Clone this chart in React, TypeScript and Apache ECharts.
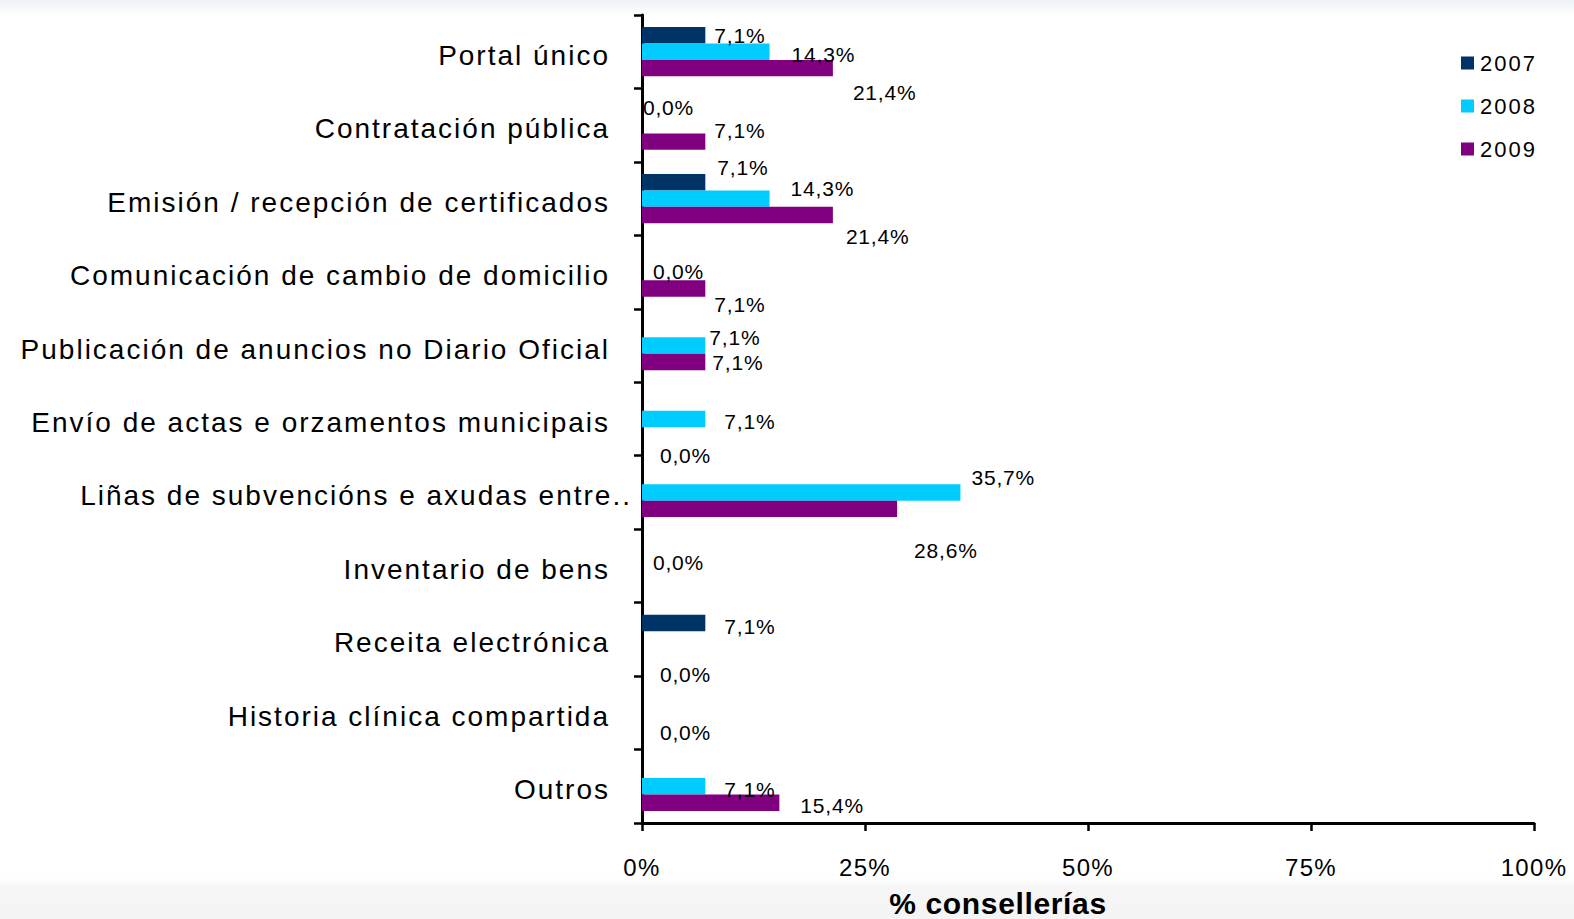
import React, { useEffect, useRef } from "react";
import * as echarts from "echarts";

const categories = [
  "Portal único",
  "Contratación pública",
  "Emisión / recepción de certificados",
  "Comunicación de cambio de domicilio",
  "Publicación de anuncios no Diario Oficial",
  "Envío de actas e orzamentos municipais",
  "Liñas de subvencións e axudas entre..",
  "Inventario de bens",
  "Receita electrónica",
  "Historia clínica compartida",
  "Outros",
];

const seriesNames = ["2007", "2008", "2009"];

const values2007: (number | null)[] = [7.1, 0, 7.1, null, null, null, null, null, 7.1, null, null];
const values2008: (number | null)[] = [14.3, null, 14.3, 0, 7.1, 7.1, 35.7, 0, null, null, 7.1];
const values2009: (number | null)[] = [21.4, 7.1, 21.4, 7.1, 7.1, 0, 28.6, null, 0, 0, 15.4];

const xTicks = [0, 25, 50, 75, 100];

// label placement offsets (layout only, reproducing the manual label positions)
const offsets2007: ([number, number] | null)[] = [[9, 0], [1, -1], [12, -15], null, null, null, null, null, [19, 4], null, null];
const offsets2008: ([number, number] | null)[] = [[22, 3], null, [21, -10], [11, -1], [4, -8], [19, 2], [11, -15], [11, -3], null, null, [19, 3]];
const offsets2009: ([number, number] | null)[] = [[20, 24], [9, -11], [13, 21], [9, 16], [7, 1], [18, 20], [17, 42], null, [18, 19], [18, 3], [21, 3]];

const colors = ["#003366", "#00CCFF", "#800080"];
const FONT = "'Liberation Sans', Arial, sans-serif";

// letter spacing per font size (reference text is rendered wide)
const spacingBySize: Record<string, string> = {
  "28": "2px",
  "21": "0.8px",
  "24": "1.3px",
  "22": "2px",
  "30": "0.65px",
};

function buildData(vals: (number | null)[], offs: ([number, number] | null)[]) {
  return vals.map((v, i) => {
    if (v === null) return { value: null, label: { show: false } };
    return { value: v, label: { show: true, offset: offs[i] || [5, 0] } };
  });
}

export default function App() {
  const ref = useRef<HTMLDivElement>(null);
  useEffect(() => {
    if (!ref.current) return;
    const el = ref.current;
    const chart = echarts.init(el, undefined, { renderer: "svg" });
    const allVals = [values2007, values2008, values2009];
    const allOffs = [offsets2007, offsets2008, offsets2009];
    chart.setOption({
      animation: false,
      backgroundColor: "#ffffff",
      graphic: [
        {
          type: "rect",
          left: 0,
          top: 0,
          shape: { width: 1574, height: 16 },
          style: {
            fill: new echarts.graphic.LinearGradient(0, 0, 0, 1, [
              { offset: 0, color: "#eef2f6" },
              { offset: 1, color: "#ffffff" },
            ]),
          },
          z: -10,
          silent: true,
        },
        {
          type: "rect",
          left: 0,
          top: 878,
          shape: { width: 1574, height: 41 },
          style: {
            fill: new echarts.graphic.LinearGradient(0, 0, 0, 1, [
              { offset: 0, color: "#ffffff" },
              { offset: 0.2, color: "#f6f6f6" },
              { offset: 1, color: "#f4f4f4" },
            ]),
          },
          z: -10,
          silent: true,
        },
      ],
      grid: {
        left: 642,
        right: 40,
        top: 15,
        bottom: 96,
        containLabel: false,
        outerBoundsMode: "none",
      },
      legend: {
        orient: "vertical",
        left: 1456,
        top: 47,
        itemWidth: 13,
        itemHeight: 13,
        itemGap: 21,
        icon: "rect",
        data: seriesNames,
        textStyle: { fontFamily: FONT, fontSize: 22, color: "#000", padding: [0, 0, 0, 1] },
      },
      xAxis: {
        type: "value",
        min: xTicks[0],
        max: xTicks[xTicks.length - 1],
        interval: 25,
        name: "% consellerías",
        nameLocation: "middle",
        nameGap: 65,
        nameTextStyle: {
          fontFamily: FONT,
          fontSize: 30,
          fontWeight: "bold",
          color: "#000",
          padding: [0, 180, 0, 0],
        },
        axisLine: { show: true, lineStyle: { color: "#000", width: 3 } },
        axisTick: { show: true, length: 8, lineStyle: { color: "#000", width: 2.5 } },
        axisLabel: {
          fontFamily: FONT,
          fontSize: 24,
          color: "#000",
          margin: 32,
          formatter: (v: number) => `${v}%`,
        },
        splitLine: { show: false },
      },
      yAxis: {
        type: "category",
        inverse: true,
        data: categories.map((c, i) =>
          i === 6
            ? {
                value: c,
                textStyle: {
                  fontFamily: FONT,
                  fontSize: 28,
                  color: "#000",
                  verticalAlign: "top",
                  lineHeight: 7,
                  padding: [0, -22, 0, 0],
                },
              }
            : c
        ),
        axisLine: { show: true, lineStyle: { color: "#000", width: 3 } },
        axisTick: { show: true, length: 8, lineStyle: { color: "#000", width: 2.5 } },
        axisLabel: {
          fontFamily: FONT,
          fontSize: 28,
          color: "#000",
          margin: 32,
          verticalAlign: "top",
          lineHeight: 7,
        },
      },
      series: seriesNames.map((name, si) => ({
        name,
        type: "bar",
        barGap: "0%",
        barCategoryGap: "33%",
        itemStyle: { color: colors[si] },
        label: {
          show: true,
          position: "right",
          distance: 0,
          fontFamily: FONT,
          fontSize: 21,
          color: "#000",
          formatter: (p: any) =>
            p.value === null || p.value === undefined
              ? ""
              : Number(p.value).toFixed(1).replace(".", ",") + "%",
        },
        data: buildData(allVals[si], allOffs[si]),
      })),
    });

    const applySpacing = () => {
      el.querySelectorAll("text").forEach((t) => {
        const fs = String(Math.round(parseFloat(getComputedStyle(t).fontSize)));
        const sp = spacingBySize[fs];
        if (sp) t.setAttribute("letter-spacing", sp);
      });
    };
    applySpacing();
    chart.on("finished", applySpacing);
    const timer = setTimeout(applySpacing, 50);
    return () => {
      clearTimeout(timer);
      chart.dispose();
    };
  }, []);
  return (
    <div
      ref={ref}
      style={{ position: "fixed", left: 0, top: 0, width: 1574, height: 919 }}
    />
  );
}
